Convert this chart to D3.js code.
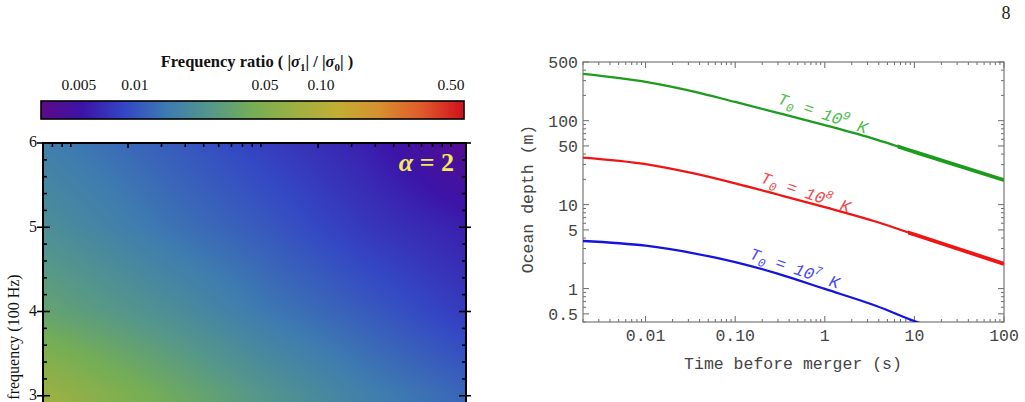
<!DOCTYPE html>
<html><head><meta charset="utf-8">
<script src="https://cdn.jsdelivr.net/npm/d3@7"></script>
<style>html,body{margin:0;padding:0;background:#fff;overflow:hidden}svg{display:block}</style>
</head><body>
<script>
// ---------- data ----------
// colour bar (frequency ratio, log)
const cbDomain = [0.00313, 0.587];
const cbTickValues = [0.005, 0.01, 0.05, 0.1, 0.5];
const cbTickLabels = ["0.005", "0.01", "0.05", "0.10", "0.50"];
const cmapColors = ["#5c0a86","#3c14a8","#3448c4","#3e7cb0","#55978a","#75ae55","#9cb042","#c2ae35","#d6902f","#e05a2a","#d0101e"];

// heat map: nodes (x on log axis, frequency in 100 Hz) and ratio values
const heatXDomain = [0.357, 60];
const heatX = [0.36, 1.6, 5.4, 18, 60];
const heatFreq = [6, 5, 4, 3];
const ratioF6 = [0.0158, 0.0110, 0.0080, 0.0059, 0.0035];
const ratioF5 = [0.0215, 0.0139, 0.0105, 0.0075, 0.0059];
const ratioF4 = [0.0330, 0.0215, 0.0145, 0.0108, 0.0078];
const ratioF3 = [0.0735, 0.0397, 0.0243, 0.0162, 0.0120];
const heatMajorX = [1, 10];
const heatMinorX = [0.4,0.45,0.5,1.5,2,2.5,3,3.5,4,4.5,5,15,20,25,30,35,40,45,50];
const freqTicks = [3, 4, 5, 6];

// ocean depth curves
const timeS = [0.002, 0.01, 0.0346, 0.1, 0.29, 1, 3.77, 10, 100];
const depthT9 = [361, 290, 222, 167, 125, 88.5, 59.5, 42.5, 19.6];
const depthT8 = [36.4, 30.4, 23.5, 17.9, 13.3, 9.35, 6.25, 4.4, 1.97];
const depthT7 = [3.69, 3.24, 2.63, 2.07, 1.52, 0.99, 0.62, 0.41, 0.19];
const thickFrom = [6.5, 8.5, 1000];
const xTickValues = [0.01, 0.1, 1, 10, 100];
const xTickLabels = ["0.01", "0.10", "1", "10", "100"];
const yTickValues = [0.5, 1, 5, 10, 50, 100, 500];
const yTickLabels = ["0.5", "1", "5", "10", "50", "100", "500"];
const curveExps = ["9", "8", "7"];

// ---------- setup ----------
const W = 1025, H = 402;
const svg = d3.select("body").append("svg").attr("width", W).attr("height", H);
const serif = "'Liberation Serif', 'Times New Roman', serif";
const mono = "'Liberation Mono', 'Courier New', monospace";

svg.append("text").attr("x", 1006).attr("y", 19).attr("text-anchor", "middle")
  .attr("font-family", serif).attr("font-size", 18).attr("fill", "#222").text("8");

// ---------- colour bar ----------
const cbX = d3.scaleLog().domain(cbDomain).range([41, 464]);
const cbT = d3.scaleLog().domain(cbDomain).range([0, 1]).clamp(true);
const cmap = d3.piecewise(d3.interpolateRgb, cmapColors);
const colorOf = v => cmap(cbT(v));

const defs = svg.append("defs");
const grad = defs.append("linearGradient").attr("id", "cbg").attr("x1", "0").attr("x2", "1").attr("y1", "0").attr("y2", "0");
d3.range(0, 1.0001, 0.02).forEach(t => grad.append("stop").attr("offset", t).attr("stop-color", cmap(t)));

svg.append("rect").attr("x", cbX.range()[0]).attr("y", 101).attr("width", cbX.range()[1] - cbX.range()[0]).attr("height", 18)
  .attr("fill", "url(#cbg)").attr("stroke", "#000").attr("stroke-width", 1.6);

svg.append("g").selectAll("text").data(cbTickValues).join("text")
  .attr("x", d => cbX(d)).attr("y", 90).attr("text-anchor", "middle")
  .attr("font-family", serif).attr("font-size", 15.5).attr("fill", "#111")
  .text((d, i) => cbTickLabels[i]);

const title = svg.append("text").attr("x", 257).attr("y", 67).attr("text-anchor", "middle")
  .attr("font-family", serif).attr("font-size", 16.5).attr("font-weight", "bold").attr("fill", "#111");
title.append("tspan").text("Frequency ratio ( |");
title.append("tspan").attr("font-style", "italic").text("σ");
title.append("tspan").attr("font-size", 11).attr("dy", 4).text("1");
title.append("tspan").attr("dy", -4).text("| / |");
title.append("tspan").attr("font-style", "italic").text("σ");
title.append("tspan").attr("font-size", 11).attr("dy", 4).text("0");
title.append("tspan").attr("dy", -4).text("| )");

// ---------- heat map ----------
const xH = d3.scaleLog().domain(heatXDomain).range([43, 466]);
const yH = d3.scaleLinear().domain([2, 6]).range([480, 143]);
const rows = [ratioF6, ratioF5, ratioF4, ratioF3].map(r => r.map(v => Math.log10(v)));
const nodeX = heatX.map(d => xH(d));

const pw = 423, ph = 262;
const cnv = document.createElement("canvas");
cnv.width = pw; cnv.height = ph;
const ctx = cnv.getContext("2d");
const img = ctx.createImageData(pw, ph);
function seg(arr, v) {
  const n = arr.length;
  for (let i = 0; i < n - 1; i++) {
    const a = arr[i], b = arr[i + 1];
    if (v >= Math.min(a, b) && v <= Math.max(a, b)) return [i, (v - a) / (b - a)];
  }
  if (Math.abs(v - arr[0]) < Math.abs(v - arr[n - 1])) return [0, 0];
  return [n - 2, 1];
}
for (let py = 0; py < ph; py++) {
  const f = yH.invert(143 + py + 0.5);
  const [ri, rf] = seg(heatFreq, f);
  for (let px = 0; px < pw; px++) {
    const X = 43 + px + 0.5;
    const [ci, cf] = seg(nodeX, X);
    const a = rows[ri][ci] * (1 - cf) + rows[ri][ci + 1] * cf;
    const b = rows[ri + 1][ci] * (1 - cf) + rows[ri + 1][ci + 1] * cf;
    const lv = a * (1 - rf) + b * rf;
    const c = d3.rgb(colorOf(Math.pow(10, lv)));
    const k = (py * pw + px) * 4;
    img.data[k] = c.r; img.data[k + 1] = c.g; img.data[k + 2] = c.b; img.data[k + 3] = 255;
  }
}
ctx.putImageData(img, 0, 0);
svg.append("image").attr("x", 43).attr("y", 143).attr("width", pw).attr("height", ph)
  .attr("preserveAspectRatio", "none").attr("href", cnv.toDataURL());

const hg = svg.append("g").attr("stroke", "#000");
const fMinor = d3.range(2.2, 6.0, 0.2).map(v => +v.toFixed(1)).filter(v => !freqTicks.includes(v));
fMinor.forEach(v => {
  hg.append("line").attr("x1", 43).attr("x2", 47).attr("y1", yH(v)).attr("y2", yH(v)).attr("stroke-width", 1.6);
  hg.append("line").attr("x1", 466).attr("x2", 462).attr("y1", yH(v)).attr("y2", yH(v)).attr("stroke-width", 1.6);
});
freqTicks.forEach(v => {
  hg.append("line").attr("x1", 37).attr("x2", 50).attr("y1", yH(v)).attr("y2", yH(v)).attr("stroke-width", 1.6);
  hg.append("line").attr("x1", 459).attr("x2", 471).attr("y1", yH(v)).attr("y2", yH(v)).attr("stroke-width", 1.6);
});
heatMinorX.forEach(v => hg.append("line").attr("x1", xH(v)).attr("x2", xH(v)).attr("y1", 143).attr("y2", 147).attr("stroke-width", 1.6));
heatMajorX.forEach(v => hg.append("line").attr("x1", xH(v)).attr("x2", xH(v)).attr("y1", 143).attr("y2", 148).attr("stroke-width", 1.6));
hg.append("rect").attr("x", 43).attr("y", 143).attr("width", 423).attr("height", 337)
  .attr("fill", "none").attr("stroke-width", 2);

svg.append("g").selectAll("text").data(freqTicks).join("text")
  .attr("x", 37).attr("y", d => yH(d)).attr("dy", "0.27em").attr("text-anchor", "end")
  .attr("font-family", serif).attr("font-size", 16).attr("fill", "#111").text(d => d);

svg.append("text").attr("transform", "translate(19,337) rotate(-90)").attr("text-anchor", "middle")
  .attr("font-family", serif).attr("font-size", 16).attr("fill", "#111").text("frequency (100 Hz)");

const al = svg.append("text").attr("x", 454).attr("y", 171).attr("text-anchor", "end")
  .attr("font-family", serif).attr("font-size", 26).attr("font-weight", "bold").attr("fill", "#f5ea5a");
al.append("tspan").attr("font-style", "italic").text("α");
al.append("tspan").text(" = 2");

// ---------- ocean depth plot ----------
const xR = d3.scaleLog().domain([0.002, 100]).range([583, 1004]);
const yR = d3.scaleLog().domain([0.4, 500]).range([322, 62]);
const gR = svg.append("g");
const rdefs = gR.append("defs");
rdefs.append("clipPath").attr("id", "clipR").append("rect")
  .attr("x", 583).attr("y", 62).attr("width", 421).attr("height", 260);
thickFrom.forEach((t, i) => {
  const x0 = Math.min(xR(Math.min(t, 100)), 1004);
  rdefs.append("clipPath").attr("id", "clipT" + i).append("rect")
    .attr("x", x0).attr("y", 62).attr("width", Math.max(0, 1004 - x0)).attr("height", 260);
});

const tickCol = "#6a6a6a";
const xMinor = [];
for (let e = -3; e <= 1; e++) for (let k = 2; k <= 9; k++) { const v = k * Math.pow(10, e); if (v >= 0.002 && v <= 100) xMinor.push(v); }
xMinor.forEach(v => {
  gR.append("line").attr("x1", xR(v)).attr("x2", xR(v)).attr("y1", 322).attr("y2", 319).attr("stroke", tickCol);
  gR.append("line").attr("x1", xR(v)).attr("x2", xR(v)).attr("y1", 62).attr("y2", 65).attr("stroke", tickCol);
});
xTickValues.forEach(v => {
  gR.append("line").attr("x1", xR(v)).attr("x2", xR(v)).attr("y1", 322).attr("y2", 316).attr("stroke", tickCol);
  gR.append("line").attr("x1", xR(v)).attr("x2", xR(v)).attr("y1", 62).attr("y2", 68).attr("stroke", tickCol);
});
const yMinor = [];
for (let e = -1; e <= 2; e++) for (let k = 1; k <= 9; k++) { const v = k * Math.pow(10, e); if (v >= 0.4 && v <= 500 && !yTickValues.includes(+v.toPrecision(3))) yMinor.push(v); }
yMinor.forEach(v => {
  gR.append("line").attr("x1", 583).attr("x2", 586).attr("y1", yR(v)).attr("y2", yR(v)).attr("stroke", tickCol);
  gR.append("line").attr("x1", 1004).attr("x2", 1001).attr("y1", yR(v)).attr("y2", yR(v)).attr("stroke", tickCol);
});
yTickValues.forEach(v => {
  gR.append("line").attr("x1", 583).attr("x2", 589).attr("y1", yR(v)).attr("y2", yR(v)).attr("stroke", tickCol);
  gR.append("line").attr("x1", 1004).attr("x2", 998).attr("y1", yR(v)).attr("y2", yR(v)).attr("stroke", tickCol);
});
gR.append("rect").attr("x", 583).attr("y", 62).attr("width", 421).attr("height", 260)
  .attr("fill", "none").attr("stroke", "#777").attr("stroke-width", 1.2);

gR.selectAll("text.xl").data(xTickValues).join("text").attr("class", "xl")
  .attr("x", d => xR(d)).attr("y", 341).attr("text-anchor", "middle")
  .attr("font-family", mono).attr("font-size", 16.5).attr("fill", "#444").text((d, i) => xTickLabels[i]);
gR.selectAll("text.yl").data(yTickValues).join("text").attr("class", "yl")
  .attr("x", 578).attr("y", d => yR(d)).attr("dy", "0.36em").attr("text-anchor", "end")
  .attr("font-family", mono).attr("font-size", 16.5).attr("fill", "#444").text((d, i) => yTickLabels[i]);

gR.append("text").attr("x", 793).attr("y", 369).attr("text-anchor", "middle")
  .attr("font-family", mono).attr("font-size", 16.5).attr("fill", "#444").text("Time before merger (s)");
gR.append("text").attr("transform", "translate(533,199) rotate(-90)").attr("text-anchor", "middle")
  .attr("font-family", mono).attr("font-size", 16.5).attr("fill", "#444").text("Ocean depth (m)");

const line = d3.line().x(d => xR(d[0])).y(d => yR(d[1])).curve(d3.curveMonotoneX);
const series = [
  { vals: depthT9, col: "#1c9c1c", lab: "#4cc04c", exp: curveExps[0] },
  { vals: depthT8, col: "#f01414", lab: "#f04a4a", exp: curveExps[1] },
  { vals: depthT7, col: "#1414dd", lab: "#4a4af0", exp: curveExps[2] }
];
const lines = gR.append("g").attr("clip-path", "url(#clipR)");
series.forEach((s, i) => {
  const pts = timeS.map((t, j) => [t, s.vals[j]]);
  lines.append("path").attr("d", line(pts)).attr("fill", "none").attr("stroke", s.col).attr("stroke-width", 2.3);
  lines.append("g").attr("clip-path", `url(#clipT${i})`).append("path").attr("d", line(pts))
    .attr("fill", "none").attr("stroke", s.col).attr("stroke-width", 3.8);
});

const labPos = [[823, 113], [806, 192], [795, 268]];
series.forEach((s, i) => {
  const t = gR.append("text").attr("transform", `translate(${labPos[i][0]},${labPos[i][1]}) rotate(19)`)
    .attr("text-anchor", "middle").attr("dy", "0.35em")
    .attr("font-family", mono).attr("font-size", 16.5).attr("font-style", "italic").attr("fill", s.lab);
  t.append("tspan").text("T");
  t.append("tspan").attr("font-size", 12).attr("dy", 4).text("0");
  t.append("tspan").attr("dy", -4).text(" = 10");
  t.append("tspan").attr("font-size", 12).attr("dy", -7).text(s.exp);
  t.append("tspan").attr("dy", 7).text(" K");
});
</script>
</body></html>
